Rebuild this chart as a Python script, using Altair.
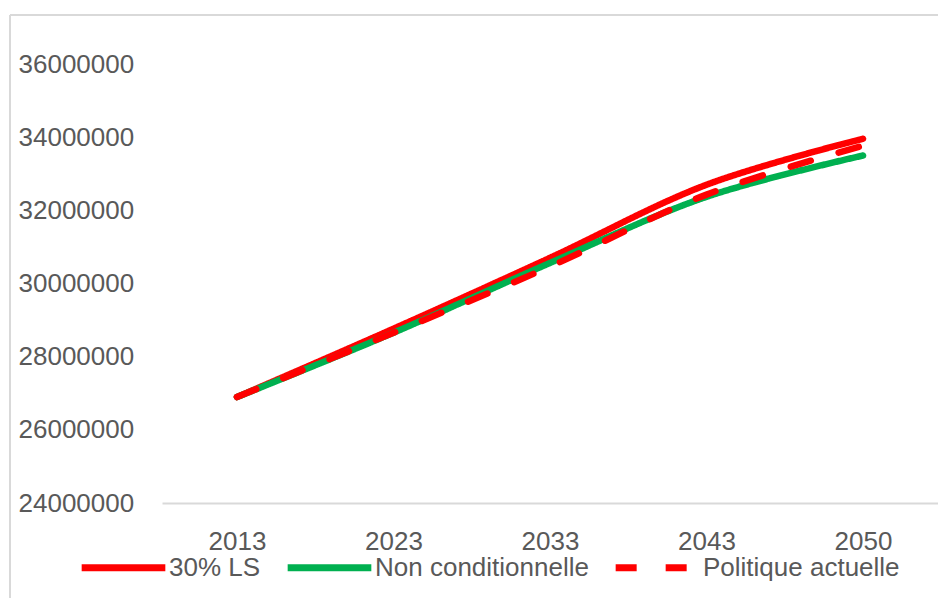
import altair as alt
import pandas as pd

years = ["2013", "2023", "2033", "2043", "2050"]
series_names = ["30% LS", "Non conditionnelle", "Politique actuelle"]
ls30 = [26900000, 28770000, 30710000, 32710000, 33970000]
non_cond = [26900000, 28660000, 30570000, 32380000, 33510000]
politique = [26900000, 28660000, 30470000, 32440000, 33780000]
y_ticks = [24000000, 26000000, 28000000, 30000000, 32000000, 34000000, 36000000]
colors = ["#ff0000", "#00b050", "#ff0000"]
dashes = [[1, 0], [1, 0], [21, 29]]

rows = []
for name, vals in zip(series_names, [ls30, non_cond, politique]):
    for yr, v in zip(years, vals):
        rows.append({"Année": yr, "Valeur": v, "Série": name})
df = pd.DataFrame(rows)

FONT = "Liberation Sans"
GRAY = "#595959"
FS = 26

legend_cfg = dict(title=None, orient="none", direction="horizontal",
                  legendX=-84, legendY=494,
                  symbolType="stroke", symbolSize=7000,
                  symbolStrokeWidth=7, labelFontSize=FS,
                  labelColor=GRAY, labelFont=FONT, labelLimit=500,
                  labelOffset=0, columnPadding=12)

lines = alt.Chart(df).mark_line(
    strokeWidth=6.5, strokeCap="round", strokeJoin="round", interpolate="catmull-rom"
).encode(
    x=alt.X("Année:O", sort=years,
            scale=alt.Scale(type="point", padding=0.479),
            axis=alt.Axis(title=None, labelAngle=0, ticks=False, domainColor="#d9d9d9",
                          domainWidth=2, labelPadding=25, labelFontSize=FS,
                          labelColor=GRAY, labelFont=FONT)),
    y=alt.Y("Valeur:Q",
            scale=alt.Scale(domain=[24000000, 37000000], nice=False, zero=False),
            axis=alt.Axis(title=None, values=y_ticks, format="d", grid=False, domain=False,
                          ticks=False, labelAlign="left", labelPadding=144,
                          labelFontSize=FS, labelColor=GRAY, labelFont=FONT)),
    color=alt.Color("Série:N", sort=series_names,
                    scale=alt.Scale(domain=series_names, range=colors),
                    legend=alt.Legend(**legend_cfg)),
    strokeDash=alt.StrokeDash("Série:N", sort=series_names,
                              scale=alt.Scale(domain=series_names, range=dashes),
                              legend=alt.Legend(**legend_cfg)),
    order=alt.Order("Série:N"),
)

border_v = alt.Chart().mark_rule(color="#d9d9d9", strokeWidth=2).encode(
    x=alt.value(-152), y=alt.value(-13), y2=alt.value(620))
border_h = alt.Chart().mark_rule(color="#d9d9d9", strokeWidth=2).encode(
    x=alt.value(-152), x2=alt.value(800), y=alt.value(-13))

chart = alt.layer(border_v, border_h, lines).properties(
    width=776, height=475,
    autosize=alt.AutoSizeParams(type="none"),
    padding={"left": 154, "top": 20, "right": 0, "bottom": 95},
    background="white",
).configure_view(stroke=None)

chart.save("out.html", embed_options={"renderer": "svg", "actions": False})
